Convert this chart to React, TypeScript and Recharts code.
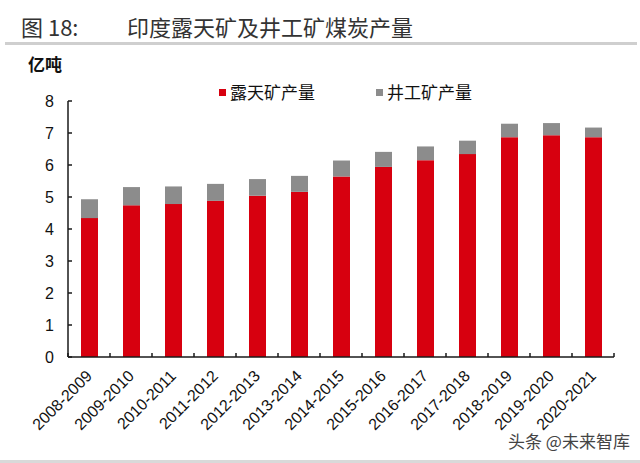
import React from 'react';
import { BarChart, Bar, XAxis, YAxis } from 'recharts';

const categories = ['2008-2009', '2009-2010', '2010-2011', '2011-2012', '2012-2013', '2013-2014', '2014-2015', '2015-2016', '2016-2017', '2017-2018', '2018-2019', '2019-2020', '2020-2021'];
const openCastOutput = [4.34, 4.74, 4.78, 4.88, 5.04, 5.16, 5.64, 5.94, 6.15, 6.34, 6.87, 6.93, 6.87];
const undergroundOutput = [0.59, 0.57, 0.55, 0.53, 0.52, 0.50, 0.50, 0.47, 0.43, 0.42, 0.42, 0.38, 0.30];
const yTicks = [0, 1, 2, 3, 4, 5, 6, 7, 8];
const seriesNames = ['露天矿产量', '井工矿产量'];
const seriesColors = ['#D7000F', '#8C8C8C'];

const data = categories.map((c, i) => ({ name: c, open: openCastOutput[i], under: undergroundOutput[i] }));

const LATIN = '"Liberation Sans", Arial, sans-serif';
const CJK = '"Noto Sans CJK SC", "Noto Sans", sans-serif';

const XTick = (props: any) => {
  const { x, y, payload, index, visibleTicksCount } = props;
  const half = payload && payload.offset ? payload.offset : 21;
  const lx = x + 4;
  const ly = y + 20;
  const isLast = index === (visibleTicksCount ?? categories.length) - 1;
  return (
    <g>
      <line x1={x - half} x2={x - half} y1={y} y2={y - 4} stroke="#1a1a1a" strokeWidth={1.5} />
      {isLast && <line x1={x + half} x2={x + half} y1={y} y2={y - 4} stroke="#1a1a1a" strokeWidth={1.5} />}
      <text x={lx} y={ly} textAnchor="end" fontSize={16} fontFamily={LATIN} fill="#111" transform={`rotate(-45, ${lx}, ${ly})`}>
        {payload.value}
      </text>
    </g>
  );
};

export default function App() {
  return (
    <div style={{ position: 'absolute', left: 0, top: 0, width: 640, height: 463, background: '#fff', overflow: 'hidden' }}>
      <div style={{ position: 'absolute', left: 21, top: 11, fontFamily: CJK, fontSize: 22, color: '#333', lineHeight: '30px', whiteSpace: 'nowrap' }}>图 18:</div>
      <div style={{ position: 'absolute', left: 127, top: 11, fontFamily: CJK, fontSize: 22, color: '#333', lineHeight: '30px', whiteSpace: 'nowrap' }}>印度露天矿及井工矿煤炭产量</div>
      <div style={{ position: 'absolute', left: 5, top: 42, width: 632, height: 3, background: '#cfcfcf' }} />
      <div style={{ position: 'absolute', left: 28, top: 53, fontFamily: CJK, fontSize: 17, fontWeight: 700, color: '#111', lineHeight: '22px' }}>亿吨</div>
      <BarChart width={640} height={463} data={data} margin={{ top: 101, right: 26, bottom: 0, left: 0 }} barSize={17} style={{ position: 'absolute', left: 0, top: 0 }}>
        <YAxis
          type="number"
          domain={[0, 8]}
          ticks={yTicks}
          width={68}
          interval={0}
          tickSize={-4}
          tickMargin={18}
          axisLine={{ stroke: '#1a1a1a', strokeWidth: 1.5 }}
          tickLine={{ stroke: '#1a1a1a', strokeWidth: 1.5 }}
          tick={{ fontSize: 16, fontFamily: LATIN, fill: '#111' }}
        />
        <XAxis
          dataKey="name"
          height={106}
          interval={0}
          tickSize={0}
          tickMargin={0}
          tickLine={false}
          axisLine={{ stroke: '#1a1a1a', strokeWidth: 1.5 }}
          tick={<XTick />}
        />
        <Bar dataKey="open" name={seriesNames[0]} stackId="a" fill={seriesColors[0]} isAnimationActive={false} />
        <Bar dataKey="under" name={seriesNames[1]} stackId="a" fill={seriesColors[1]} isAnimationActive={false} />
      </BarChart>
      <div style={{ position: 'absolute', left: 219, top: 82, display: 'flex', fontFamily: CJK, fontSize: 17, color: '#111', lineHeight: '20px' }}>
        {seriesNames.map((n, i) => (
          <div key={n} style={{ display: 'flex', alignItems: 'center', marginRight: i === 0 ? 61 : 0 }}>
            <span style={{ display: 'inline-block', width: 7, height: 7, background: seriesColors[i], marginRight: 4 }} />
            <span>{n}</span>
          </div>
        ))}
      </div>
      <div style={{ position: 'absolute', left: 508, top: 430, fontFamily: CJK, fontSize: 17, color: '#444', lineHeight: '22px', whiteSpace: 'nowrap' }}>头条 @未来智库</div>
      <div style={{ position: 'absolute', left: 0, top: 460, width: 640, height: 3, background: '#d9d9d9' }} />
    </div>
  );
}
